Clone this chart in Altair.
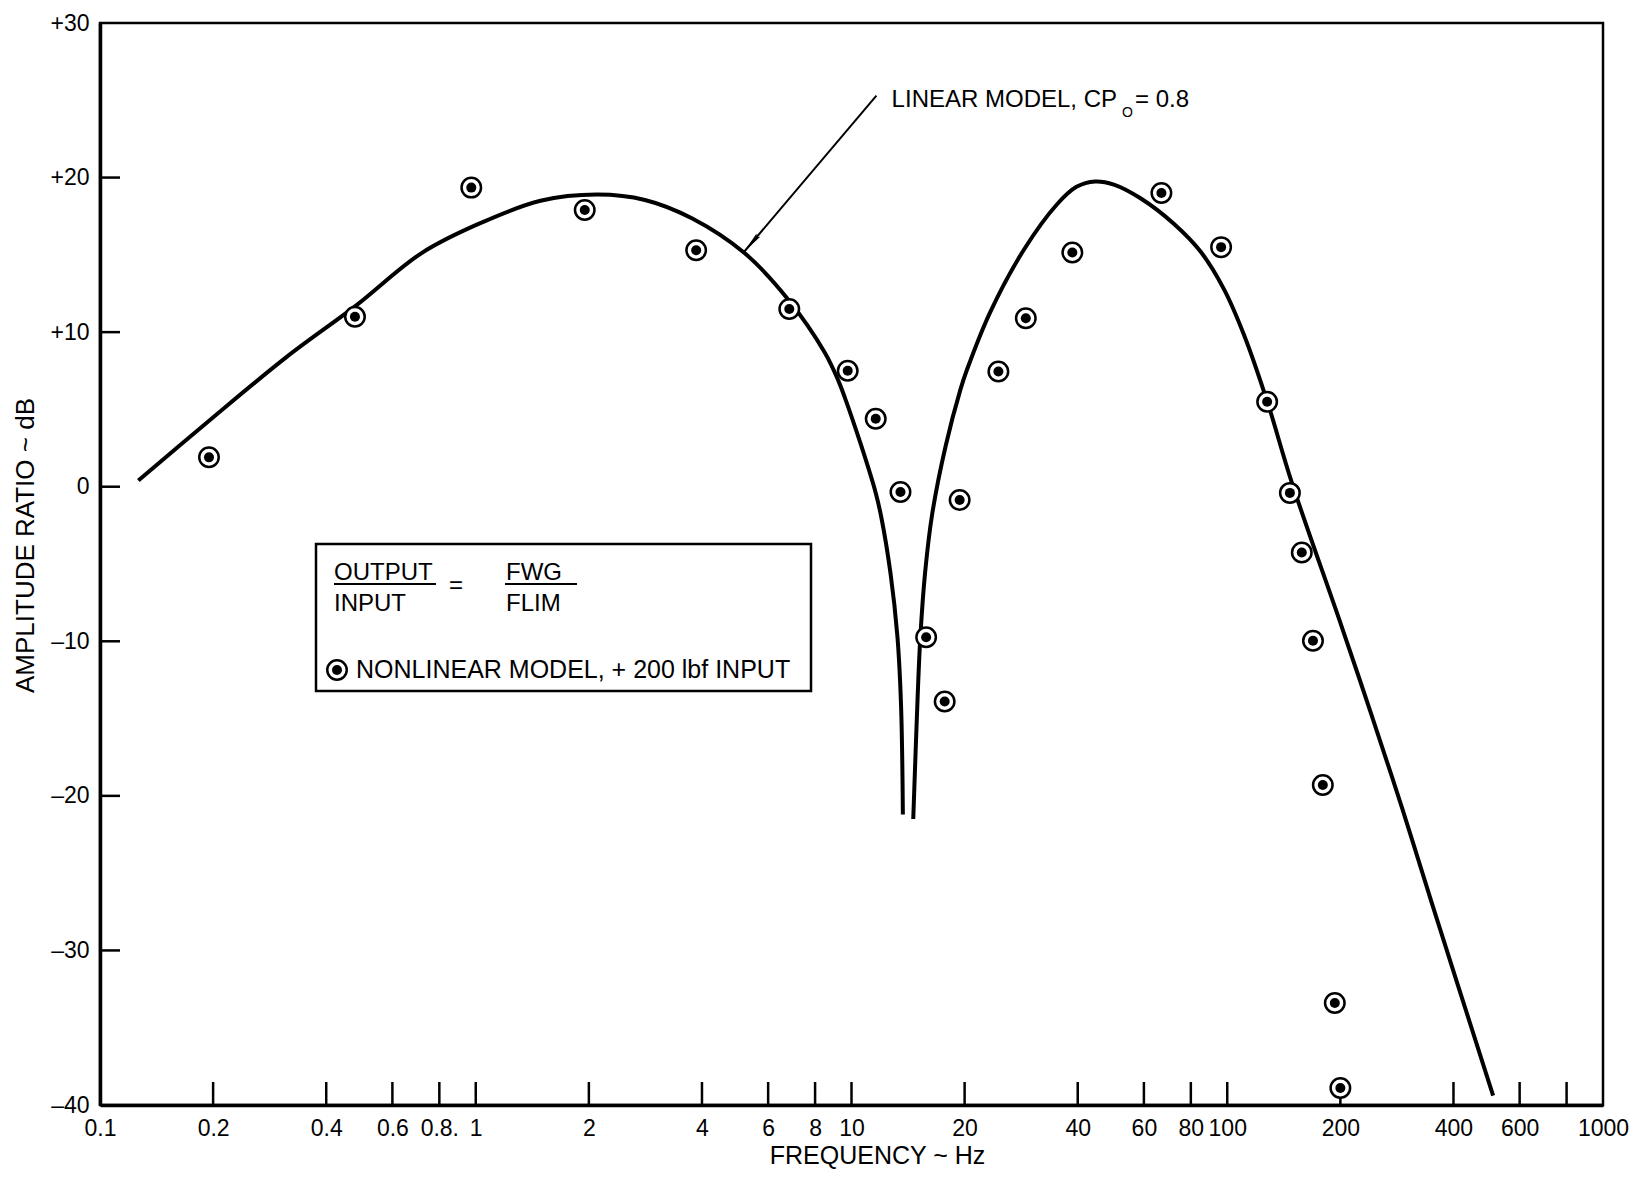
import altair as alt
import pandas as pd

# ---------------- data ----------------
# Linear model, CPo = 0.8 (drawn as two branches either side of the notch)
lin_a_freq = [0.1265, 0.198, 0.314, 0.479, 0.716, 1.017, 1.487, 2.11, 2.82, 3.77, 5.2, 6.79,
              8.48, 9.23, 9.59, 10.6, 11.6, 12.0, 12.7, 13.25, 13.55, 13.7]
lin_a_db = [0.4, 4.4, 8.4, 11.7, 15.1, 17.0, 18.5, 18.9, 18.55, 17.35, 15.1, 12.1,
            8.7, 6.85, 5.8, 2.7, -0.4, -1.96, -5.6, -9.7, -14.2, -21.2]
lin_b_freq = [14.6, 15.0, 15.25, 15.7, 16.4, 17.8, 19.5, 20.3, 23.4, 28.7, 35.2, 39.7, 44.5,
              49.9, 58.9, 72.2, 85.0, 97.9, 110.9, 128.0, 148.4, 201.3, 240.8, 292.0, 351.0, 510.0]
lin_b_db = [-21.5, -13.55, -9.7, -5.55, -1.75, 2.62, 6.3, 7.58, 11.3, 15.3, 18.26, 19.4, 19.75,
            19.55, 18.65, 17.0, 15.2, 12.8, 9.8, 5.45, 0.3, -9.0, -14.6, -20.8, -27.0, -39.4]

# Nonlinear model, +200 lbf input
nl_freq = [0.195, 0.477, 0.973, 1.95, 3.86, 6.83, 9.77, 11.6, 13.5, 15.8, 17.7, 19.4,
           24.6, 29.1, 38.7, 66.8, 96.3, 127.7, 146.8, 157.9, 169.1, 179.6, 193.3, 200.0]
nl_db = [1.9, 11.0, 19.35, 17.9, 15.3, 11.5, 7.5, 4.4, -0.34, -9.74, -13.9, -0.86,
         7.45, 10.9, 15.15, 19.0, 15.5, 5.5, -0.4, -4.26, -9.97, -19.3, -33.4, -38.9]

# axis ticks / labels
x_tick_values = [0.1, 0.2, 0.4, 0.6, 0.8, 1, 2, 4, 6, 8, 10, 20, 40, 60, 80, 100, 200, 400, 600, 800, 1000]
x_tick_labels = ["0.1", "0.2", "0.4", "0.6", "0.8.", "1", "2", "4", "6", "8", "10", "20", "40",
                 "60", "80", "100", "200", "400", "600", "", "1000"]
y_tick_values = [30, 20, 10, 0, -10, -20, -30, -40]
y_tick_labels = ["+30", "+20", "+10", "0", "\u201310", "\u201320", "\u201330", "\u201340"]
x_inner_ticks = x_tick_values[1:-1]
y_inner_ticks = y_tick_values[1:-1]

# annotation arrow (start near text, tip on the curve) and arrow head
arrow_f = [11.65]
arrow_db = [25.3]
arrow_f2 = [5.18]
arrow_db2 = [15.2]
head_f = [5.41]
head_db = [15.74]

FONT = "Liberation Sans"
W, H = 1503, 1082


def label_expr(values, labels):
    expr = "''"
    for v, lab in reversed(list(zip(values, labels))):
        tol = abs(v) * 1e-6 + 1e-9
        expr = f"abs(datum.value - ({v})) < {tol} ? '{lab}' : ({expr})"
    return expr


xscale = alt.Scale(type="log", domain=[0.1, 1000], nice=False)
yscale = alt.Scale(domain=[-40, 30], nice=False, zero=False)

xaxis = alt.Axis(values=x_tick_values, labelExpr=label_expr(x_tick_values, x_tick_labels),
                 title="FREQUENCY ~ Hz", ticks=False, grid=False, labelFlush=False,
                 labelOverlap=False, labelPadding=12, domainWidth=3.5, domainColor="black",
                 labelFontSize=23, titleFontSize=25, labelFont=FONT, titleFont=FONT,
                 labelColor="black", titleColor="black", titleFontWeight="normal",
                 titleX=777, titleY=50, titleAlign="center", titleBaseline="middle")
yaxis = alt.Axis(values=y_tick_values, labelExpr=label_expr(y_tick_values, y_tick_labels),
                 title="AMPLITUDE RATIO ~ dB", ticks=False, grid=False, labelFlush=False,
                 labelOverlap=False, labelPadding=11, domainWidth=3.5, domainColor="black",
                 labelFontSize=23, titleFontSize=26, labelFont=FONT, titleFont=FONT,
                 labelColor="black", titleColor="black", titleFontWeight="normal",
                 titleAngle=270, titleX=-75, titleY=522, titleAlign="center",
                 titleBaseline="middle")


def X(field="f"):
    return alt.X(f"{field}:Q", scale=xscale, axis=xaxis)


def Y(field="db"):
    return alt.Y(f"{field}:Q", scale=yscale, axis=yaxis)


line_df = pd.DataFrame({
    "f": lin_a_freq + lin_b_freq,
    "db": lin_a_db + lin_b_db,
    "seg": ["a"] * len(lin_a_freq) + ["b"] * len(lin_b_freq),
})
pts_df = pd.DataFrame({"f": nl_freq, "db": nl_db})

line = alt.Chart(line_df).mark_line(color="black", strokeWidth=4, interpolate="catmull-rom").encode(
    x=X(), y=Y(), detail="seg:N")

ring = alt.Chart(pts_df).mark_point(shape="circle", size=380, filled=True, fill="white",
                                     stroke="black", strokeWidth=2.5, opacity=1).encode(x=X(), y=Y())
dot = alt.Chart(pts_df).mark_point(shape="circle", size=100, filled=True, color="black",
                                    opacity=1, strokeWidth=0).encode(x=X(), y=Y())

# inward tick marks
xt = alt.Chart(pd.DataFrame({"f": x_inner_ticks})).mark_rule(color="black", strokeWidth=2.5).encode(
    x=X(), y=alt.value(H), y2=alt.value(H - 23))
yt = alt.Chart(pd.DataFrame({"db": y_inner_ticks})).mark_rule(color="black", strokeWidth=2.5).encode(
    y=Y(), x=alt.value(0), x2=alt.value(20))

# annotation arrow
arrow_df = pd.DataFrame({"f": arrow_f, "db": arrow_db, "f2": arrow_f2, "db2": arrow_db2})
arrow = alt.Chart(arrow_df).mark_rule(color="black", strokeWidth=2).encode(
    x=X(), y=Y(), x2="f2:Q", y2="db2:Q")
head = alt.Chart(pd.DataFrame({"f": head_f, "db": head_db})).mark_point(
    shape="M0,-1L-0.22,1L0,0.75L0.22,1Z", size=484, angle=220.5, filled=True, color="black",
    opacity=1, strokeWidth=0).encode(x=X(), y=Y())

one = alt.Data(values=[{"k": 0}])


def txt(s, x, y, size=24, align="left", baseline="alphabetic"):
    return alt.Chart(one).mark_text(text=s, align=align, baseline=baseline, fontSize=size,
                                    font=FONT, color="black").encode(x=alt.value(x), y=alt.value(y))


def hrule(x1, x2, y, w=2):
    return alt.Chart(one).mark_rule(color="black", strokeWidth=w).encode(
        x=alt.value(x1), x2=alt.value(x2), y=alt.value(y))


ann = [
    txt("LINEAR MODEL, CP", 1017, 84, align="right"),
    txt("O", 1022, 94, size=14),
    txt("= 0.8", 1035, 84),
]

box = alt.Chart(one).mark_rect(fill="white", stroke="black", strokeWidth=2.5).encode(
    x=alt.value(216), x2=alt.value(711), y=alt.value(521), y2=alt.value(668))
legend = [
    box,
    txt("OUTPUT", 234, 557),
    hrule(234, 336, 561),
    txt("INPUT", 234, 588),
    txt("=", 356, 563, align="center", baseline="middle"),
    txt("FWG", 406, 557),
    hrule(405, 477, 561),
    txt("FLIM", 406, 588),
    alt.Chart(one).mark_point(shape="circle", size=380, filled=True, fill="white", stroke="black",
                              strokeWidth=2.5, opacity=1).encode(x=alt.value(237), y=alt.value(647)),
    alt.Chart(one).mark_point(shape="circle", size=100, filled=True, color="black", opacity=1,
                              strokeWidth=0).encode(x=alt.value(237), y=alt.value(647)),
    txt("NONLINEAR MODEL,  + 200 lbf INPUT", 256, 655, size=25),
]

chart = alt.layer(line, xt, yt, arrow, head, ring, dot, *ann, *legend).properties(
    width=W, height=H,
    autosize=alt.AutoSizeParams(type="none"),
    padding={"left": 92, "top": 15, "right": 26, "bottom": 64},
    background="white",
).configure_view(stroke="black", strokeWidth=2.5).configure_axis(grid=False)

chart.save("out.html", embed_options={"renderer": "svg", "actions": False})
